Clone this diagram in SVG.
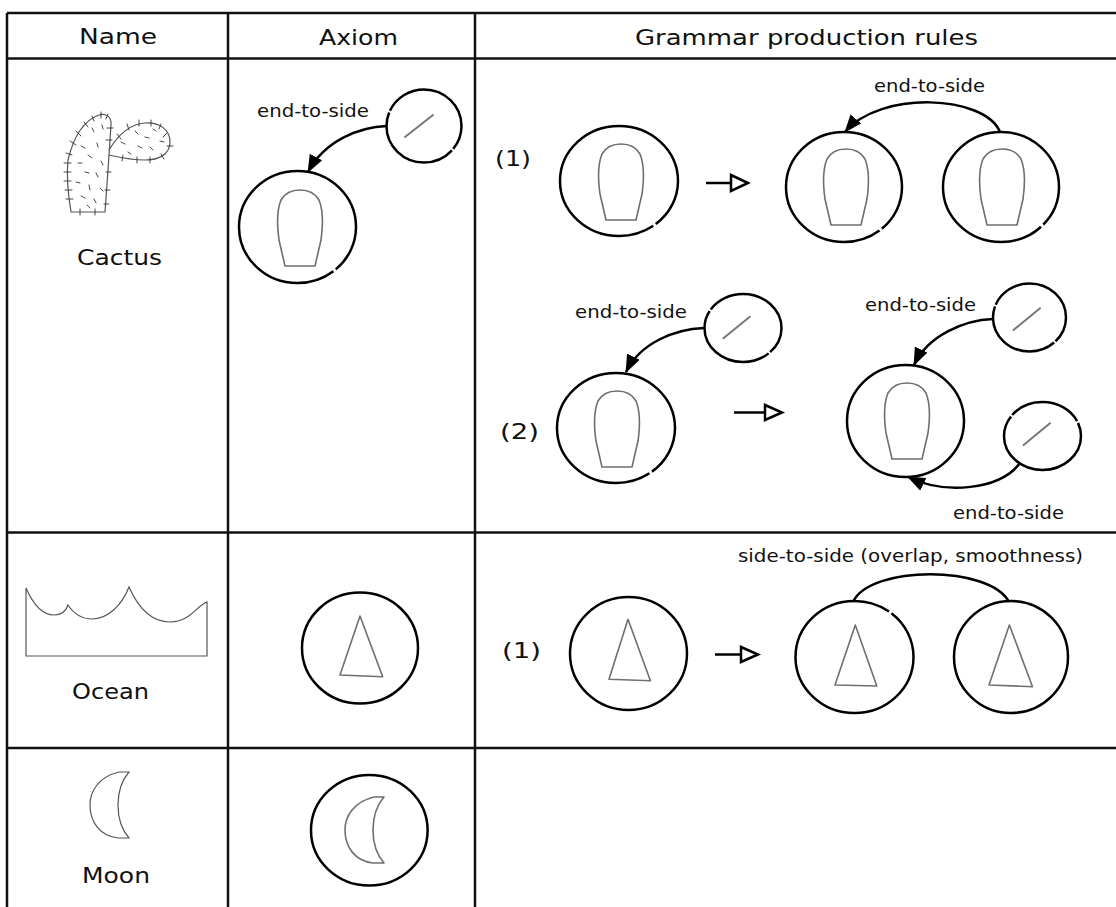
<svg xmlns="http://www.w3.org/2000/svg" xmlns:xlink="http://www.w3.org/1999/xlink" width="1116" height="907" viewBox="0 0 1116 907">
  <style>
    .grid { stroke: #111; stroke-width: 2.5; fill: none; }
    .node { fill: #fff; stroke: #000; stroke-width: 2.5; }
    .shape { fill: none; stroke: #6f6f6f; stroke-width: 1.6; stroke-linejoin: round; }
    .slash { stroke: #777; stroke-width: 2; stroke-linecap: round; }
    .icon { fill: none; stroke: #555; stroke-width: 1.2; }
    .spine { stroke: #333; stroke-width: 0.9; stroke-linecap: round; }
    .edge { fill: none; stroke: #000; stroke-width: 2.5; }
    .derive { fill: #fff; stroke: #000; stroke-width: 2.5; stroke-linejoin: miter; }
    text { font-family: "DejaVu Sans", "Liberation Sans", sans-serif; fill: #111; }
    .hdr { font-size: 22px; }
    .lbl { font-size: 17px; }
  </style>
  <defs>
    <marker id="head" viewBox="0 0 18 14" refX="17" refY="7" markerWidth="18" markerHeight="14" markerUnits="userSpaceOnUse" orient="auto">
      <path d="M0,0 L18,7 L0,14 Z" fill="#000"/>
    </marker>
    <!-- rounded segment outline, anchored at its top centre -->
    <path id="pod" class="shape" d="M-15,76 L15,76 L21,50 C23,36 23,20 19,10 C15,3 8,0 0,0 C-8,0 -15,3 -19,10 C-23,20 -23,36 -21,50 Z"/>
    <path id="crescent" d="M129,772 L119,772 C98,777 90,792 90,805 C90,822 100,836 118,838 L129,838 C122,830 118,818 118,805 C118,791 122,780 129,772 Z"/>
  </defs>

  <!-- table grid -->
  <g id="table">
    <line class="grid" x1="7" y1="13" x2="1116" y2="13"/>
    <line class="grid" x1="7" y1="58.5" x2="1116" y2="58.5" stroke-width="3"/>
    <line class="grid" x1="7" y1="532.5" x2="1116" y2="532.5"/>
    <line class="grid" x1="7" y1="748" x2="1116" y2="748"/>
    <line class="grid" x1="7" y1="13" x2="7" y2="907"/>
    <line class="grid" x1="228" y1="13" x2="228" y2="907"/>
    <line class="grid" x1="475" y1="13" x2="475" y2="907"/>
  </g>

  <!-- column headers -->
  <g id="headers">
    <text class="hdr" x="79" y="44" textLength="78" lengthAdjust="spacingAndGlyphs">Name</text>
    <text class="hdr" x="319" y="45" textLength="79" lengthAdjust="spacingAndGlyphs">Axiom</text>
    <text class="hdr" x="635" y="45" textLength="343" lengthAdjust="spacingAndGlyphs">Grammar production rules</text>
  </g>

  <!-- name column -->
  <g id="name-cactus">
    <path class="icon" d="M71,212 L105,212 L108,170 L111,125 C112,116 105,113 99,115 C85,120 74,135 68,160 C66,180 69,200 71,212 Z"/>
    <path class="icon" d="M109,150 C118,135 130,124 145,123 C160,122 170,130 170,142 C170,155 158,160 145,160 C130,160 118,157 109,155"/>
    <g class="spine">
      <line x1="64" y1="163" x2="71" y2="163"/><line x1="64" y1="172" x2="71" y2="172"/>
      <line x1="64" y1="181" x2="71" y2="181"/><line x1="65" y1="190" x2="72" y2="190"/>
      <line x1="66" y1="199" x2="73" y2="199"/><line x1="66" y1="153" x2="72" y2="155"/>
      <line x1="70" y1="141" x2="76" y2="145"/><line x1="76" y1="131" x2="81" y2="136"/>
      <line x1="84" y1="122" x2="88" y2="127"/><line x1="92" y1="116" x2="94" y2="121"/>
      <line x1="101" y1="112" x2="101" y2="118"/><line x1="108" y1="114" x2="106" y2="119"/>
      <line x1="107" y1="128" x2="113" y2="128"/><line x1="106" y1="140" x2="112" y2="140"/>
      <line x1="106" y1="172" x2="111" y2="172"/><line x1="105" y1="190" x2="110" y2="190"/>
      <line x1="104" y1="204" x2="109" y2="204"/><line x1="80" y1="209" x2="80" y2="215"/>
      <line x1="95" y1="209" x2="95" y2="215"/>
      <line x1="117" y1="134" x2="121" y2="139"/><line x1="127" y1="124" x2="129" y2="130"/>
      <line x1="139" y1="120" x2="139" y2="126"/><line x1="151" y1="120" x2="151" y2="126"/>
      <line x1="161" y1="124" x2="159" y2="129"/><line x1="167" y1="133" x2="163" y2="137"/>
      <line x1="167" y1="146" x2="173" y2="146"/><line x1="161" y1="154" x2="164" y2="159"/>
      <line x1="150" y1="157" x2="150" y2="163"/><line x1="137" y1="157" x2="137" y2="163"/>
      <line x1="123" y1="155" x2="122" y2="161"/>
      <line x1="92" y1="128" x2="94" y2="132"/><line x1="102" y1="125" x2="103" y2="129"/>
      <line x1="81" y1="146" x2="85" y2="148"/><line x1="97" y1="143" x2="98" y2="147"/>
      <line x1="88" y1="155" x2="92" y2="158"/><line x1="78" y1="163" x2="82" y2="163"/>
      <line x1="101" y1="161" x2="103" y2="165"/><line x1="85" y1="172" x2="89" y2="173"/>
      <line x1="96" y1="173" x2="98" y2="177"/><line x1="76" y1="182" x2="80" y2="183"/>
      <line x1="89" y1="185" x2="90" y2="190"/><line x1="100" y1="188" x2="103" y2="191"/>
      <line x1="81" y1="196" x2="85" y2="198"/><line x1="94" y1="199" x2="96" y2="203"/>
      <line x1="87" y1="205" x2="90" y2="208"/>
      <line x1="121" y1="142" x2="125" y2="144"/><line x1="135" y1="131" x2="138" y2="134"/>
      <line x1="145" y1="137" x2="149" y2="138"/><line x1="153" y1="129" x2="156" y2="131"/>
      <line x1="138" y1="146" x2="142" y2="148"/><line x1="150" y1="147" x2="153" y2="150"/>
      <line x1="160" y1="141" x2="164" y2="142"/><line x1="128" y1="152" x2="131" y2="154"/>
    </g>
    <text class="hdr" x="77" y="265" textLength="85" lengthAdjust="spacingAndGlyphs">Cactus</text>
  </g>

  <g id="name-ocean">
    <path class="icon" d="M26,588 C33,604 42,615 54,615 C61,615 66,611 68,605 C74,614 82,619 92,619 C108,619 122,605 129,587 C137,605 150,622 170,622 C190,622 196,606 207,602 L207,656 L26,656 Z"/>
    <text class="hdr" x="72" y="699" textLength="77" lengthAdjust="spacingAndGlyphs">Ocean</text>
  </g>

  <g id="name-moon">
    <use href="#crescent" xlink:href="#crescent" class="icon"/>
    <text class="hdr" x="82" y="883" textLength="68" lengthAdjust="spacingAndGlyphs">Moon</text>
  </g>

  <!-- axiom column -->
  <g id="axiom-cactus-spine">
    <ellipse class="node" cx="424" cy="126" rx="37.5" ry="36.5" pathLength="360" stroke-dasharray="38.5 3 160 3 155.5"/>
    <line class="slash" x1="405" y1="137" x2="433" y2="115"/>
  </g>
  <g id="axiom-cactus-segment">
    <ellipse class="node" cx="297.5" cy="227" rx="58.5" ry="56" pathLength="360" stroke-dasharray="48.5 3 308.5"/>
    <use href="#pod" xlink:href="#pod" x="300" y="190"/>
  </g>
  <g id="axiom-ocean">
    <ellipse class="node" cx="360" cy="648" rx="58" ry="55.5"/>
    <path class="shape" d="M360,616 L340,675 L382.7,676.7 Z"/>
  </g>
  <g id="axiom-moon">
    <ellipse class="node" cx="369.3" cy="830.3" rx="58.3" ry="55.3"/>
    <use href="#crescent" xlink:href="#crescent" class="shape" transform="translate(255,25)"/>
  </g>

  <!-- cactus rule (1) -->
  <g id="r1-lhs">
    <ellipse class="node" cx="619" cy="181" rx="59" ry="55" pathLength="360" stroke-dasharray="50.5 3 306.5"/>
    <use href="#pod" xlink:href="#pod" x="621" y="144"/>
  </g>
  <g id="r1-rhs-a">
    <ellipse class="node" cx="844" cy="187" rx="58" ry="55" pathLength="360" stroke-dasharray="48.5 3 308.5"/>
    <use href="#pod" xlink:href="#pod" x="846" y="149"/>
  </g>
  <g id="r1-rhs-b">
    <ellipse class="node" cx="1001" cy="187" rx="58" ry="55" pathLength="360" stroke-dasharray="42.5 3 314.5"/>
    <use href="#pod" xlink:href="#pod" x="1002" y="149"/>
  </g>

  <!-- cactus rule (2) -->
  <g id="r2-lhs-spine">
    <ellipse class="node" cx="743" cy="328" rx="38.5" ry="34" pathLength="360" stroke-dasharray="43.5 3 162 3 148.5"/>
    <line class="slash" x1="723.4" y1="338.3" x2="749.8" y2="316.7"/>
  </g>
  <g id="r2-lhs-segment">
    <ellipse class="node" cx="616" cy="428" rx="59" ry="55" pathLength="360" stroke-dasharray="51.5 3 305.5"/>
    <use href="#pod" xlink:href="#pod" x="617" y="391"/>
  </g>
  <g id="r2-rhs-segment">
    <ellipse class="node" cx="905.5" cy="421" rx="58.5" ry="56"/>
    <use href="#pod" xlink:href="#pod" x="907" y="383"/>
  </g>
  <g id="r2-rhs-spine-top">
    <ellipse class="node" cx="1029.5" cy="317.5" rx="36.5" ry="34" pathLength="360" stroke-dasharray="43.5 3 152 3 158.5"/>
    <line class="slash" x1="1013.5" y1="330" x2="1040" y2="308.3"/>
  </g>
  <g id="r2-rhs-spine-bottom">
    <ellipse class="node" cx="1042.5" cy="436" rx="38.5" ry="34" pathLength="360" stroke-dasharray="213.5 3 119 3 21.5"/>
    <line class="slash" x1="1023.6" y1="445" x2="1050" y2="423.3"/>
  </g>

  <!-- ocean rule (1) -->
  <g id="r3-lhs">
    <ellipse class="node" cx="628.5" cy="653.5" rx="58.5" ry="56.5"/>
    <path class="shape" d="M628,619.3 L609,679.3 L650.4,680.7 Z"/>
  </g>
  <g id="r3-rhs-a">
    <ellipse class="node" cx="854.5" cy="657" rx="59" ry="56" pathLength="360" stroke-dasharray="306.5 3 50.5"/>
    <path class="shape" d="M855.3,625 L835,685 L876.8,686 Z"/>
  </g>
  <g id="r3-rhs-b">
    <ellipse class="node" cx="1011" cy="657" rx="57" ry="56"/>
    <path class="shape" d="M1009.4,625 L989,685 L1032.5,686.7 Z"/>
  </g>

  <!-- rule numbers -->
  <g id="rule-numbers">
    <text class="hdr" x="495" y="166" textLength="36" lengthAdjust="spacingAndGlyphs">(1)</text>
    <text class="hdr" x="500" y="439" textLength="39" lengthAdjust="spacingAndGlyphs">(2)</text>
    <text class="hdr" x="502" y="658" textLength="39" lengthAdjust="spacingAndGlyphs">(1)</text>
  </g>

  <!-- connectors -->
  <g id="connectors">
    <path class="edge" d="M387,126 C360,127 325,140 308,172" marker-end="url(#head)"/>
    <path class="edge" d="M1000,132 C985,95 880,90 845,132" marker-end="url(#head)"/>
    <path class="edge" d="M704,328 C675,329 640,343 626,372" marker-end="url(#head)"/>
    <path class="edge" d="M993,319 C965,320 928,335 914,365" marker-end="url(#head)"/>
    <path class="edge" d="M1020,463 C1000,490 945,495 908,477" marker-end="url(#head)"/>
    <path class="edge" d="M853,602 C870,565 990,565 1009,602"/>

    <!-- derivation arrows -->
    <line class="edge" x1="706" y1="183" x2="731" y2="183"/>
    <path class="derive" d="M731,175 L748,183 L731,191 Z"/>
    <line class="edge" x1="734" y1="412.5" x2="765" y2="412.5"/>
    <path class="derive" d="M765,405 L782,412.5 L765,420 Z"/>
    <line class="edge" x1="715" y1="654.5" x2="741" y2="654.5"/>
    <path class="derive" d="M741,647 L758,654.5 L741,662 Z"/>

    <!-- connector labels -->
    <text class="lbl" x="257" y="117" textLength="112" lengthAdjust="spacingAndGlyphs">end-to-side</text>
    <text class="lbl" x="874" y="92" textLength="111" lengthAdjust="spacingAndGlyphs">end-to-side</text>
    <text class="lbl" x="575" y="318" textLength="112" lengthAdjust="spacingAndGlyphs">end-to-side</text>
    <text class="lbl" x="865" y="311" textLength="111" lengthAdjust="spacingAndGlyphs">end-to-side</text>
    <text class="lbl" x="953" y="519" textLength="111" lengthAdjust="spacingAndGlyphs">end-to-side</text>
    <text class="lbl" x="738" y="562" textLength="345" lengthAdjust="spacingAndGlyphs">side-to-side (overlap, smoothness)</text>
  </g>
</svg>
